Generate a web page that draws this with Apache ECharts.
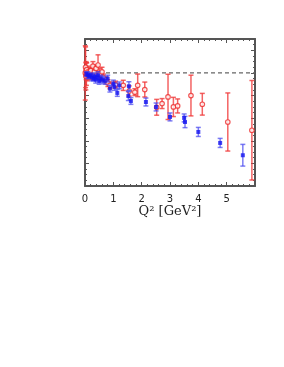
<!DOCTYPE html>
<html><head><meta charset="utf-8">
<script src="https://cdn.jsdelivr.net/npm/echarts@6/dist/echarts.min.js"></script>
<style>html,body{margin:0;padding:0;background:#fff}#c{width:284px;height:367px}</style>
</head><body><div id="c"></div>
<script>
// Q^2 [GeV^2], ratio value, error
const redQ2  = [0.01,0.02,0.03,0.04,0.05,0.06,0.08,0.10,0.13,0.16,0.20,0.28,0.33,0.39,0.46,0.52,0.60,0.65,0.74,0.81,0.88,1.08,1.35,1.56,1.76,1.86,2.11,2.53,2.72,2.93,3.12,3.27,3.74,4.14,5.04,5.89];
const redVal = [1.00,1.05,0.97,1.02,0.99,1.03,0.98,1.01,1.00,0.99,1.02,1.06,1.01,1.04,1.07,0.99,1.01,0.96,0.935,0.91,0.89,0.897,0.89,0.84,0.83,0.89,0.853,0.696,0.729,0.788,0.699,0.708,0.80,0.723,0.566,0.493];
const redErr = [0.24,0.18,0.12,0.08,0.10,0.06,0.05,0.05,0.04,0.05,0.03,0.04,0.05,0.03,0.09,0.05,0.04,0.03,0.03,0.03,0.03,0.03,0.045,0.045,0.03,0.10,0.066,0.07,0.044,0.20,0.085,0.062,0.18,0.096,0.257,0.44];

const blueQ2  = [0.05,0.10,0.15,0.20,0.25,0.30,0.33,0.38,0.42,0.46,0.50,0.55,0.62,0.70,0.80,0.88,1.00,1.04,1.14,1.21,1.53,1.55,1.62,2.15,2.51,3.00,3.50,3.53,4.00,4.77,5.57];
const blueVal = [0.99,0.98,0.97,0.98,0.96,0.95,0.97,0.94,0.96,0.98,0.93,0.95,0.94,0.93,0.95,0.861,0.906,0.876,0.823,0.89,0.796,0.882,0.752,0.743,0.699,0.611,0.602,0.566,0.478,0.381,0.272];
const blueErr = [0.02,0.03,0.02,0.02,0.03,0.02,0.03,0.03,0.02,0.03,0.03,0.03,0.03,0.03,0.03,0.03,0.03,0.03,0.03,0.03,0.04,0.04,0.03,0.035,0.035,0.035,0.035,0.05,0.04,0.04,0.096];

const xTicks = [0,1,2,3,4,5];
const refLine = 1.0;

const redPts = redQ2.map((q,i)=>[q, redVal[i], redVal[i]-redErr[i], redVal[i]+redErr[i]]);
const bluePts = blueQ2.map((q,i)=>[q, blueVal[i], blueVal[i]-blueErr[i], blueVal[i]+blueErr[i]]);

function errRender(color){
  return function(params, api){
    const x = api.value(0);
    const lo = api.coord([x, api.value(2)]);
    const hi = api.coord([x, api.value(3)]);
    const w = 2.5;
    const st = {stroke: color, lineWidth: 1.5};
    return {type:'group', children:[
      {type:'line', shape:{x1:lo[0],y1:lo[1],x2:hi[0],y2:hi[1]}, style:st},
      {type:'line', shape:{x1:lo[0]-w,y1:lo[1],x2:lo[0]+w,y2:lo[1]}, style:st},
      {type:'line', shape:{x1:hi[0]-w,y1:hi[1],x2:hi[0]+w,y2:hi[1]}, style:st}
    ]};
  };
}

const chart = echarts.init(document.getElementById('c'), null, {renderer:'canvas'});
const axisLineStyle = {color:'#555', width:2};
const tickStyle = {color:'#555', width:1};
function xAx(pos, labels){
  return {type:'value', min:0, max:6, interval:1, position:pos,
    axisLine:{show:true, onZero:false, lineStyle:axisLineStyle},
    axisTick:{show:true, inside:true, length:4, lineStyle:tickStyle},
    minorTick:{show:true, splitNumber:5, length:2, lineStyle:tickStyle},
    splitLine:{show:false},
    axisLabel:labels ? {show:true, margin:8, fontSize:10, color:'#222', fontFamily:'DejaVu Sans',
      formatter:v=> xTicks.indexOf(v)>=0 ? String(v) : ''} : {show:false}};
}
function yAx(pos){
  return {type:'value', min:0, max:1.3, interval:0.2, position:pos,
    axisLine:{show:true, onZero:false, lineStyle:axisLineStyle},
    axisTick:{show:true, inside:true, length:4, lineStyle:tickStyle},
    minorTick:{show:true, splitNumber:4, length:2, lineStyle:tickStyle},
    splitLine:{show:false}, axisLabel:{show:false}};
}
const xb = xAx('bottom', true);
xb.name = 'Q² [GeV²]'; xb.nameLocation = 'middle'; xb.nameGap = 19;
xb.nameTextStyle = {fontSize:13, color:'#222', fontFamily:'DejaVu Serif'};
chart.setOption({
  animation:false,
  grid:{left:85, right:29, top:39, bottom:181, show:false},
  xAxis:[xb, xAx('top', false)],
  yAxis:[yAx('left'), yAx('right')],
  series:[
    {type:'line', data:[[0,refLine],[6,refLine]], symbol:'none', silent:true,
     lineStyle:{color:'#666', width:1.2, type:[4,3]}, z:1},
    {type:'custom', data:redPts, renderItem:errRender('rgba(240,60,60,0.8)'), z:2, encode:{x:0,y:[2,3]}},
    {type:'scatter', data:redPts.map(p=>[p[0],p[1]]), symbol:'circle', symbolSize:4.5,
     itemStyle:{color:'#fff', borderColor:'#ee2a2a', borderWidth:1.2}, z:3},
    {type:'custom', data:bluePts, renderItem:errRender('rgba(70,70,240,0.7)'), z:4, encode:{x:0,y:[2,3]}},
    {type:'scatter', data:bluePts.map(p=>[p[0],p[1]]), symbol:'rect', symbolSize:4,
     itemStyle:{color:'#1414f0'}, z:5}
  ]
});
</script></body></html>
